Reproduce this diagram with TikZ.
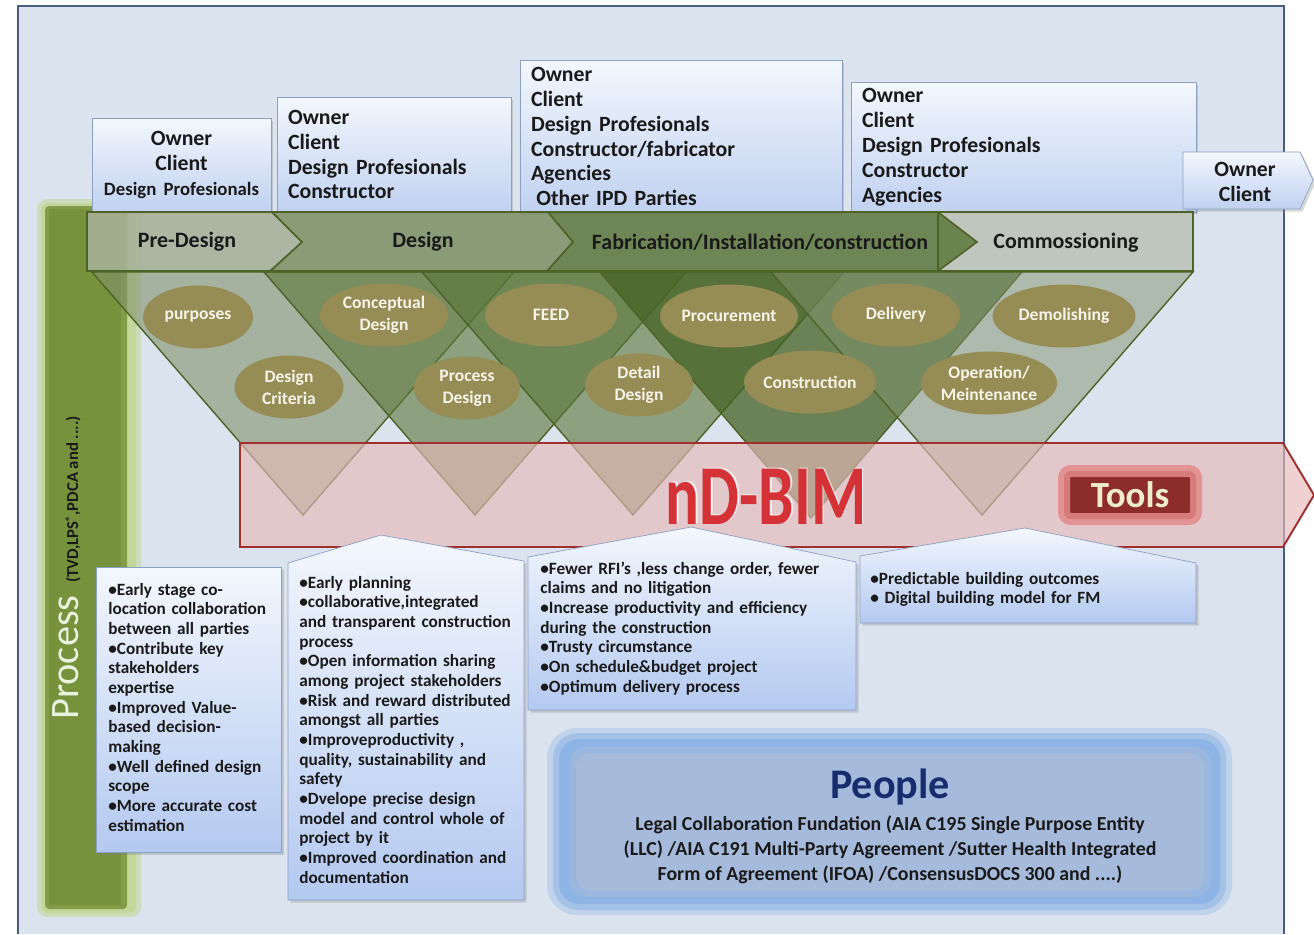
\documentclass[tikz,border=0pt]{standalone}
\usepackage{fontspec}
\setmainfont{Carlito}
\usetikzlibrary{shapes.geometric,shadows}

\definecolor{bgblue}{RGB}{219,227,239}
\definecolor{frameline}{RGB}{74,94,132}
\definecolor{ownTop}{RGB}{243,247,253}
\definecolor{ownBot}{RGB}{192,209,240}
\definecolor{callBot}{RGB}{180,201,240}
\definecolor{ownline}{RGB}{140,160,196}
\definecolor{procgreen}{RGB}{118,146,60}
\definecolor{procglow}{RGB}{196,215,155}
\definecolor{procText}{RGB}{234,241,221}
\definecolor{phaseline}{RGB}{79,98,40}
\definecolor{preFill}{RGB}{166,176,152}
\definecolor{desFill}{RGB}{128,146,104}
\definecolor{fabFill}{RGB}{96,122,64}
\definecolor{comFill}{RGB}{188,195,184}
\definecolor{triLight}{RGB}{130,146,108}
\definecolor{triMid}{RGB}{90,118,56}
\definecolor{triDark}{RGB}{70,98,36}
\definecolor{stageFill}{RGB}{150,140,86}
\definecolor{stageText}{RGB}{246,244,232}
\definecolor{bimFill}{RGB}{230,185,184}
\definecolor{bimLine}{RGB}{160,48,46}
\definecolor{bimText}{RGB}{212,50,54}
\definecolor{toolFill}{RGB}{140,45,44}
\definecolor{toolGlow}{RGB}{226,138,138}
\definecolor{toolText}{RGB}{238,236,205}
\definecolor{peopleGlow}{RGB}{141,180,228}
\definecolor{peopleFill}{RGB}{166,186,220}
\definecolor{peopleText}{RGB}{23,45,110}
\definecolor{txt}{RGB}{26,26,26}

\begin{document}
\begin{tikzpicture}[
    x=0.02cm, y=-0.02cm,
    boxfill/.style={draw=ownline, top color=ownTop, bottom color=ownBot, drop shadow={opacity=0.3, shadow xshift=0.05cm, shadow yshift=-0.05cm}},
    ownbox/.style={boxfill, inner xsep=0.22cm, inner ysep=0, text=txt, font=\bfseries\fontsize{12.4}{14.2}\selectfont},
    phase/.style={draw=phaseline, line width=0.9pt, fill opacity=0.88},
    phaselbl/.style={text=txt, font=\bfseries\fontsize{12.5}{14}\selectfont},
    tri/.style={draw=phaseline, line width=0.8pt},
    stage/.style={ellipse, fill=stageFill, text=stageText, inner sep=0, minimum height=1.26cm, align=center, font=\bfseries\fontsize{10}{12.5}\selectfont},
    callbox/.style={boxfill, bottom color=callBot},
    note/.style={anchor=base west, inner sep=0, align=left, text=txt, font=\bfseries\fontsize{9.8}{11.2}\selectfont}
]
    \useasboundingbox (0,0) rectangle (1314,934);

    % frame
    \fill[bgblue] (18,6) rectangle (1284,934);
    \draw[frameline, line width=1.2pt] (18,934) -- (18,6) -- (1284,6) -- (1284,934);

    % process bar
    \fill[procglow!60!bgblue, rounded corners=0.2cm] (37,199) rectangle (141,917);
    \fill[procglow, rounded corners=0.15cm] (41,203) rectangle (136,913);
    \fill[procgreen!85!procglow, rounded corners=0.08cm] (45,206) rectangle (127,909);
    \fill[procgreen] (49,209) rectangle (121,905);
    \node[rotate=90, anchor=base west, inner sep=0] (proc) at (78,720)
        {{\color{procText}\fontsize{23}{23}\selectfont Process}\hspace{7pt}{\color{txt}\bfseries\fontsize{9.5}{9.5}\selectfont(TVD,LPS\raisebox{2.5pt}{\fontsize{6.5}{6.5}\selectfont®},PDCA and ....)}};

    % parties
    \node[ownbox, minimum width=3.58cm, minimum height=1.88cm, inner xsep=0.1cm, text width=3.38cm, align=center] (own1) at (181.5,165)
        {Owner\\Client\\{\fontsize{10.7}{12.5}\selectfont Design Profesionals}};
    \node[ownbox, minimum width=4.68cm, minimum height=2.3cm, text width=4.24cm, align=left] (own2) at (394,154.5)
        {Owner\\Client\\Design Profesionals\\Constructor};
    \node[ownbox, minimum width=6.44cm, minimum height=3.06cm, text width=6cm, align=left] (own3) at (681,136.5)
        {Owner\\Client\\Design Profesionals\\Constructor/fabricator\\Agencies\\\hspace{3pt}Other IPD Parties};
    \node[ownbox, minimum width=6.9cm, minimum height=2.6cm, text width=6.46cm, align=left] (own4) at (1023.5,147)
        {Owner\\Client\\Design Profesionals\\Constructor\\Agencies};
    \draw[boxfill] (1183,152) -- (1300,152) -- (1313,180) -- (1300,209) -- (1183,209) -- cycle;
    \node[text=txt, font=\bfseries\fontsize{12.4}{14.2}\selectfont, align=center] (own5) at (1245,181.5) {Owner\\Client};

    % phases
    \fill[comFill, fill opacity=0.9] (938,212) rectangle (1193,271);
    \filldraw[phase, fill=preFill] (87,212) -- (272,212) -- (302,242) -- (272,271) -- (87,271) -- cycle;
    \filldraw[phase, fill=desFill] (272,212) -- (548,212) -- (573,242) -- (547,271) -- (270,271) -- (302,242) -- cycle;
    \filldraw[phase, fill=fabFill] (548,212) -- (938,212) -- (977,242) -- (938,271) -- (547,271) -- (573,242) -- cycle;
    \draw[phaseline, line width=0.9pt] (938,212) rectangle (1193,271);
    \node[phaselbl] (pre) at (187,242) {Pre-Design};
    \node[phaselbl] (des) at (423,242) {Design};
    \node[phaselbl] (fab) at (760,242) {Fabrication/Installation/construction};
    \node[phaselbl] (com) at (1066,243) {Commossioning};

    % stage triangles
    \filldraw[tri, fill=triLight, fill opacity=0.6] (92,272) -- (514,272) -- (303,515) -- cycle;
    \filldraw[tri, fill=triMid, fill opacity=0.6] (264,272) -- (686,272) -- (475,515) -- cycle;
    \filldraw[tri, fill=triMid, fill opacity=0.6] (422,272) -- (844,272) -- (633,515) -- cycle;
    \filldraw[tri, fill=triDark, fill opacity=0.75] (600,272) -- (1022,272) -- (811,518) -- cycle;
    \filldraw[tri, fill=triLight, fill opacity=0.5] (771,272) -- (1193,272) -- (982,515) -- cycle;

    % activities
    \node[stage, minimum width=2.2cm] (purp) at (198,317) {purposes};
    \node[stage, minimum width=2.18cm] (crit) at (289,387) {Design\\Criteria};
    \node[stage, minimum width=2.56cm] (concept) at (384,315) {Conceptual\\Design};
    \node[stage, minimum width=2.12cm] (procdes) at (467,388) {Process\\Design};
    \node[stage, minimum width=2.64cm] (feed) at (551,315) {FEED};
    \node[stage, minimum width=2.16cm] (detail) at (639,385) {Detail\\Design};
    \node[stage, minimum width=2.76cm] (procure) at (729,316) {Procurement};
    \node[stage, minimum width=2.64cm] (constr) at (810,382) {Construction};
    \node[stage, minimum width=2.56cm] (deliv) at (896,315) {Delivery};
    \node[stage, minimum width=2.86cm] (demol) at (1064,316) {Demolishing};
    \node[stage, minimum width=2.7cm] (operat) at (989,383) {Operation/\\Meintenance};

    % tools band
    \filldraw[draw=bimLine, line width=1.1pt, fill=bimFill, fill opacity=0.65] (240,443) -- (1283,443) -- (1314,495) -- (1283,547) -- (240,547) -- cycle;
    \node[text=white, opacity=0.7, font=\bfseries\fontsize{36}{36}\selectfont] (bimglow) at (767.5,495.5) {\scalebox{1}[1.35]{nD-BIM}};
    \node[text=bimText, font=\bfseries\fontsize{36}{36}\selectfont] (bim) at (766,497) {\scalebox{1}[1.35]{nD-BIM}};
    \node[fill=toolFill, draw=toolGlow, draw opacity=0.85, line width=0.24cm, rounded corners=0.14cm, minimum width=2.64cm, minimum height=0.96cm, text=toolText, font=\bfseries\fontsize{21}{21}\selectfont] (tools) at (1130,495) {Tools};

    % benefits
    \draw[callbox] (96,567) rectangle (281,852);
    \draw[callbox] (288,900) -- (288,563) -- (381,535) -- (524,561) -- (524,900) -- cycle;
    \draw[callbox] (528,710) -- (528,557) -- (691,527) -- (856,562) -- (856,710) -- cycle;
    \draw[callbox] (860,623) -- (860,556) -- (1025,528) -- (1196,563) -- (1196,623) -- cycle;
    \node[note, text width=3.5cm] (noteA) at (108,595)
        {•Early stage co-\\location collaboration\\between all parties\\•Contribute key\\stakeholders\\expertise\\•Improved Value-\\based decision-\\making\\•Well defined design\\scope\\•More accurate cost\\estimation};
    \node[note, text width=4.5cm] (noteB) at (299,588)
        {•Early planning\\•collaborative,integrated\\and transparent construction\\process\\•Open information sharing\\among project stakeholders\\•Risk and reward distributed\\amongst all parties\\•Improveproductivity ,\\quality, sustainability and\\safety\\•Dvelope precise design\\model  and control whole of\\project by it\\•Improved coordination and\\documentation};
    \node[note, text width=6.3cm] (noteC) at (540,574)
        {•Fewer RFI's ,less change order, fewer\\claims and no litigation\\•Increase productivity and efficiency\\during the construction\\•Trusty circumstance\\•On schedule\&budget project\\•Optimum delivery process};
    \node[note, text width=6.4cm] (noteD) at (870,584)
        {•Predictable building outcomes\\• Digital building model for FM};

    % people
    \fill[peopleGlow!35!bgblue, rounded corners=0.6cm] (547,728) rectangle (1232,915);
    \fill[peopleGlow!70!bgblue, rounded corners=0.5cm] (553,733) rectangle (1226,910);
    \fill[peopleGlow, rounded corners=0.4cm] (559,739) rectangle (1220,904);
    \fill[peopleGlow!50!peopleFill, rounded corners=0.34cm] (569,747) rectangle (1211,897);
    \fill[peopleFill, rounded corners=0.3cm] (576,753) rectangle (1204,891);
    \node[text=peopleText, font=\bfseries\fontsize{24}{24}\selectfont] (people) at (890,787) {People};
    \node[text=txt, align=center, font=\bfseries\fontsize{11.3}{14.2}\selectfont] (peopleTxt) at (890,850)
        {Legal Collaboration Fundation (AIA C195 Single Purpose Entity\\(LLC) /AIA C191 Multi-Party Agreement /Sutter Health Integrated\\Form of Agreement (IFOA) /ConsensusDOCS 300  and ....)};
\end{tikzpicture}
\end{document}
